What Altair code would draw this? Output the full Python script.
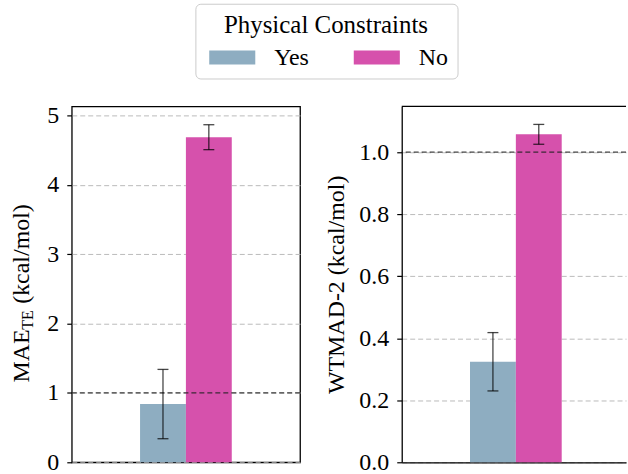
import altair as alt
import pandas as pd

groups = ["Yes", "No"]
colors = ["#8EADC1", "#D651AC"]

mae_values = [0.84, 4.69]
mae_err = [0.50, 0.18]
mae_ticks = [0, 1, 2, 3, 4, 5]
mae_max = 5.134

wtmad_values = [0.324, 1.057]
wtmad_err = [0.094, 0.032]
wtmad_ticks = [0.0, 0.2, 0.4, 0.6, 0.8, 1.0]
wtmad_max = 1.147

threshold = [1.0]

FONT = "Liberation Serif"
H = 357
W_LEFT = 229
W_RIGHT = 225
BAR = 46

legend = alt.Legend(
    title="Physical Constraints",
    orient="none",
    legendX=124,
    legendY=-103,
    direction="horizontal",
    columns=2,
    symbolType="M-3.3,-1H3.3V1H-3.3Z",
    symbolSize=196,
    symbolOffset=16,
    symbolStrokeWidth=0,
    symbolOpacity=1,
    labelFont=FONT,
    labelFontSize=24,
    labelColor="black",
    labelOffset=30,
    columnPadding=40,
    titleFont=FONT,
    titleFontSize=25,
    titleFontWeight="normal",
    titleColor="black",
    titleAnchor="middle",
    titlePadding=8,
    titleLimit=400,
    strokeColor="#cccccc",
    fillColor="white",
    cornerRadius=5,
    padding=9,
)


def panel(vals, errs, ymax, ticks, fmt, title, width, align, right):
    df = pd.DataFrame({
        "g": ["all"] * len(groups),
        "c": groups,
        "v": vals,
        "lo": [v - e for v, e in zip(vals, errs)],
        "hi": [v + e for v, e in zip(vals, errs)],
    })
    base = alt.Chart(df)
    if right:
        xaxis = alt.Axis(labels=False, ticks=False, title=None, grid=False,
                         domain=True, domainColor="black", domainWidth=1.3)
    else:
        xaxis = None
    po = (width / (2 * BAR) - 1) / 2
    x = alt.X("g:N", axis=xaxis,
              scale=alt.Scale(paddingInner=0, paddingOuter=po, align=align))
    xo = alt.XOffset("c:N", sort=groups,
                     scale=alt.Scale(domain=groups, paddingInner=0, paddingOuter=0))
    ys = alt.Scale(domain=[0, ymax], nice=False, zero=True)
    yaxis = alt.Axis(values=ticks, format=fmt, title=title,
                     domain=right, domainColor="black", domainWidth=1.3)
    bars = base.mark_bar(opacity=1).encode(
        x=x, xOffset=xo,
        y=alt.Y("v:Q", scale=ys, axis=yaxis),
        color=alt.Color("c:N", sort=groups,
                        scale=alt.Scale(domain=groups, range=colors), legend=legend),
    )
    ref = alt.Chart(pd.DataFrame({"r": threshold})).mark_rule(
        color="#222222", strokeDash=[5, 3], strokeWidth=1.2, opacity=0.85
    ).encode(y=alt.Y("r:Q", scale=ys))
    err = base.mark_rule(color="black", opacity=0.72, strokeWidth=1.3).encode(
        x=x, xOffset=xo, y=alt.Y("lo:Q", scale=ys), y2="hi:Q")
    cap_hi = base.mark_tick(color="black", opacity=0.72, thickness=1.3, size=11,
                            orient="horizontal").encode(
        x=x, xOffset=xo, y=alt.Y("hi:Q", scale=ys))
    cap_lo = base.mark_tick(color="black", opacity=0.72, thickness=1.3, size=11,
                            orient="horizontal").encode(
        x=x, xOffset=xo, y=alt.Y("lo:Q", scale=ys))
    layers = [bars, ref, err, cap_hi, cap_lo]
    if right:
        top = alt.Chart(pd.DataFrame({"r": [0]})).mark_rule(
            color="black", strokeWidth=1.3).encode(y=alt.value(0))
        layers.append(top)
    return layers


left_layers = panel(mae_values, mae_err, mae_max, mae_ticks, "d", None, W_LEFT, 0.5, False)

title_parts = [
    ("MAE", 24, -43, 277),
    ("TE", 16, -39, 224),
    ("(kcal/mol)", 24, -43, 198),
]
for txt, fs, xx, yy in title_parts:
    left_layers.append(
        alt.Chart(pd.DataFrame({"t": [txt]})).mark_text(
            angle=270, align="left", baseline="alphabetic", font=FONT,
            fontSize=fs, color="black"
        ).encode(text="t:N", x=alt.value(xx), y=alt.value(yy))
    )

left = alt.layer(*left_layers).properties(width=W_LEFT, height=H)

right = alt.layer(*panel(wtmad_values, wtmad_err, wtmad_max, wtmad_ticks, ".1f",
                         "WTMAD-2 (kcal/mol)", W_RIGHT, 0.515, True)).properties(
    width=W_RIGHT, height=H, view=alt.ViewBackground(stroke="transparent"))

chart = alt.hconcat(left, right, spacing=22).resolve_scale(color="shared").resolve_legend(
    color="shared"
).properties(
    padding={"left": 9, "top": 2, "right": 0, "bottom": 0},
    background="white",
).configure_view(
    stroke="black", strokeWidth=1.3
).configure_axis(
    labelFont=FONT, labelFontSize=24, labelColor="black", labelPadding=8,
    titleFont=FONT, titleFontSize=24, titleFontWeight="normal", titleColor="black",
    titlePadding=10,
    tickColor="black", tickSize=5, tickWidth=1.2,
    grid=True, gridDash=[5, 3], gridColor="#bbbbbb", gridWidth=1,
)

chart.save("out.html", embed_options={"renderer": "svg", "actions": False})
